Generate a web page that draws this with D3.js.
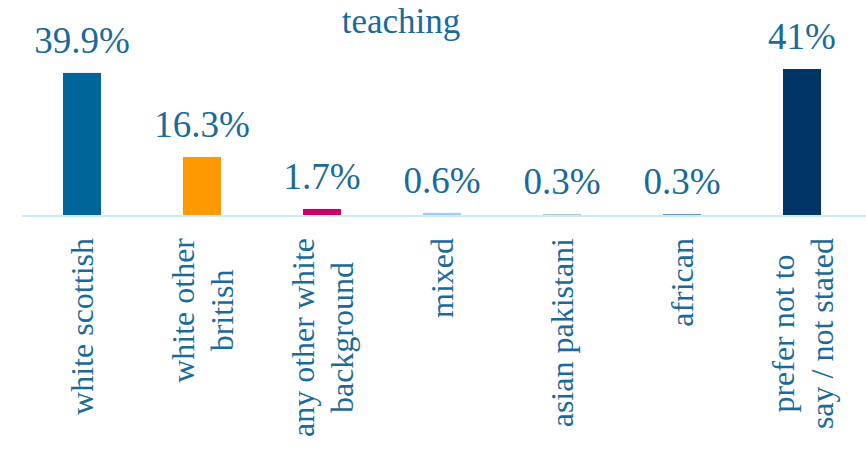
<!DOCTYPE html>
<html>
<head>
<meta charset="utf-8">
<script src="https://cdn.jsdelivr.net/npm/d3@7"></script>
</head>
<body style="margin:0">
<svg id="chart" width="866" height="449"></svg>
<script>
const chartTitle = "teaching";
const categories = [
  ["white scottish"],
  ["white other", "british"],
  ["any other white", "background"],
  ["mixed"],
  ["asian pakistani"],
  ["african"],
  ["prefer not to", "say / not stated"]
];
const values = [39.9, 16.3, 1.7, 0.6, 0.3, 0.3, 41];
const valueLabels = ["39.9%", "16.3%", "1.7%", "0.6%", "0.3%", "0.3%", "41%"];
const barColors = ["#006699", "#FF9900", "#CC0066", "#99CCFF", "#B8C8D0", "#6699CC", "#003366"];

const FONT = "Liberation Serif";
const textColor = "#1A6A9A";
const svg = d3.select("#chart");

const x = d3.scaleBand()
  .domain(d3.range(values.length))
  .range([22, 862])
  .paddingInner(0.683)
  .paddingOuter(0.3415);

const y = d3.scaleLinear().domain([0, 41]).range([215, 69]);

// centred text without text-anchor: measure, then shift
function centredText(parent, str, size, cx, baseY) {
  const t = parent.append("text")
    .attr("font-size", size)
    .attr("font-family", FONT)
    .attr("fill", textColor)
    .text(str);
  const len = t.node().getComputedTextLength();
  t.attr("x", cx - len / 2).attr("y", baseY);
  return t;
}

// bars
svg.selectAll("rect.bar").data(values).join("rect")
  .attr("class", "bar")
  .attr("x", (d, i) => x(i))
  .attr("width", x.bandwidth())
  .attr("y", d => y(d))
  .attr("height", d => y(0) - y(d))
  .attr("fill", (d, i) => barColors[i]);

// baseline
svg.append("line")
  .attr("x1", 22).attr("x2", 866)
  .attr("y1", y(0) + 1).attr("y2", y(0) + 1)
  .attr("stroke", "#CCEBFA").attr("stroke-width", 2);

// title
centredText(svg, chartTitle, 35, 401, 33);

// value labels
values.forEach((v, i) => {
  centredText(svg, valueLabels[i], 37, x(i) + x.bandwidth() / 2, y(v) - 20);
});

// category labels (rotated, reading bottom to top, top-aligned under the axis)
const labelTop = 238;
const fs = 32;
const lineGap = 39;
categories.forEach((lines, i) => {
  const cx = x(i) + x.bandwidth() / 2;
  const g = svg.append("g");
  const texts = lines.map(ln => g.append("text")
    .attr("font-size", fs)
    .attr("font-family", FONT)
    .attr("fill", textColor)
    .text(ln));
  const lens = texts.map(t => t.node().getComputedTextLength());
  const maxLen = d3.max(lens);
  const cy = labelTop + maxLen / 2;
  const n = lines.length;
  texts.forEach((t, j) => {
    const off = (j - (n - 1) / 2) * lineGap;
    const bx = cx + off + 11;
    t.attr("transform", `translate(${bx},${cy + lens[j] / 2}) rotate(-90)`);
  });
});
</script>
</body>
</html>
